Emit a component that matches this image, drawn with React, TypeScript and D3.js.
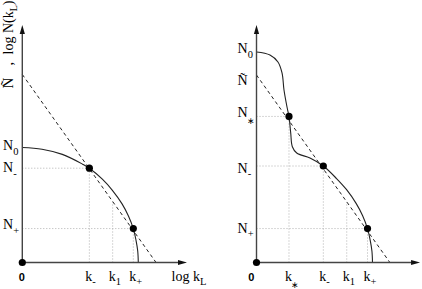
import React from "react";
import * as d3 from "d3";

const W = 422;
const H = 289;

// ---------- data (schematic units: log k on x, log N on y) ----------
// left panel
const leftCurveK = [0, 1.7, 3.45, 5.2, 5.78, 6.9, 7.75, 8.6, 9.15, 9.57, 9.8, 9.95, 10];
const leftCurveN = [10, 9.85, 9.4, 8.55, 8.2, 7.25, 6.3, 5.1, 4.05, 2.95, 1.95, 1.0, 0];
const leftDotK = [5.78, 9.57];
const leftDotN = [8.2, 2.95];
const leftTildeN = 16.35;
const leftDashEndK = 11.53;
const leftK1 = 7.79;
const leftYLabelSubs = ["0", "-", "+"];
const leftYLabelVals = [10, 8.2, 2.95];
const leftXLabelSubs = ["-", "1", "+"];
const leftXLabelVals = [5.78, 7.79, 9.57];

// right panel
const rightCurveK = [0, 1.16, 1.85, 2.2, 2.37, 2.63, 2.8, 2.95, 3.09, 3.47, 4.61, 5.76, 6.9, 7.75, 8.6, 9.15, 9.57, 9.8, 9.95, 10];
const rightCurveN = [18.3, 18.04, 17.43, 16.48, 15.0, 13.52, 12.7, 11.26, 10.07, 9.52, 9.09, 8.39, 7.3, 6.35, 5.12, 4.07, 2.95, 1.95, 1.0, 0];
const rightDotK = [2.8, 5.76, 9.57];
const rightDotN = [12.7, 8.39, 2.95];
const rightTildeN = 16.3;
const rightDashEndK = 11.5;
const rightK1 = 7.78;
const rightYLabelSubs = ["0", "~", "*", "-", "+"];
const rightYLabelVals = [18.3, 16.3, 12.7, 8.39, 2.95];
const rightXLabelSubs = ["*", "-", "1", "+"];
const rightXLabelVals = [2.8, 5.76, 7.78, 9.57];

// rotated y title pieces of the left panel
const yTitleParts = ["Ñ", ",", "log N(k"];

const SERIF = "'Liberation Serif', 'Times New Roman', serif";
const SANS = "'Liberation Sans', Arial, sans-serif";

type PanelProps = {
  ox: number;
  xMax: number;
  curveK: number[];
  curveN: number[];
  dotK: number[];
  dotN: number[];
  tildeN: number;
  dashEndK: number;
  k1: number;
  yLabelSubs: string[];
  yLabelVals: number[];
  yLabelOffsets: number[];
  yLabelX: number;
  xLabelSubs: string[];
  xLabelVals: number[];
  zeroX: number;
  xAxisLabel: boolean;
};

function Sub({ s }: { s: string }) {
  if (s === "*") {
    return (
      <tspan fontSize={9} dx={-1} dy={7}>
        {"∗"}
      </tspan>
    );
  }
  return (
    <tspan fontSize={10.5} dy={4.5}>
      {s}
    </tspan>
  );
}

function Panel(p: PanelProps) {
  const x = d3.scaleLinear().domain([0, p.xMax]).range([p.ox, p.ox + p.xMax * 11.6]);
  const y = d3.scaleLinear().domain([0, 20.65]).range([262.5, 25]);
  const pts: [number, number][] = p.curveK.map((k, i) => [k, p.curveN[i]]);
  const line = d3
    .line<[number, number]>()
    .x((d) => x(d[0]))
    .y((d) => y(d[1]))
    .curve(d3.curveCatmullRom.alpha(0.5));
  const dashN = (k: number) => p.tildeN * (1 - k / p.dashEndK);
  const x0 = x(0);
  const y0 = y(0);
  const xTip = x(p.xMax);
  const yTip = y(20.65);
  const dotted = { stroke: "#b0b0b0", strokeWidth: 1, strokeDasharray: "1,2", fill: "none" };

  return (
    <g>
      {/* dotted guides */}
      {p.dotK.map((k, i) => (
        <g key={"g" + i}>
          <line x1={x0} x2={x(k)} y1={y(p.dotN[i])} y2={y(p.dotN[i])} style={dotted} />
          <line x1={x(k)} x2={x(k)} y1={y0} y2={y(p.dotN[i])} style={dotted} />
        </g>
      ))}
      <line x1={x(p.k1)} x2={x(p.k1)} y1={y0} y2={y(dashN(p.k1))} style={dotted} />

      {/* dashed tangent line */}
      <line
        x1={x(0)}
        y1={y(p.tildeN)}
        x2={x(p.dashEndK)}
        y2={y(0)}
        stroke="#222"
        strokeWidth={1}
        strokeDasharray="3.5,3"
      />

      {/* curve */}
      <path d={line(pts) || ""} fill="none" stroke="#222" strokeWidth={1.1} />

      {/* axes */}
      <line x1={x0} y1={y0} x2={xTip - 6} y2={y0} stroke="#444" strokeWidth={1.4} />
      <line x1={x0} y1={y0} x2={x0} y2={yTip + 6} stroke="#444" strokeWidth={1.4} />
      <path d={`M${xTip},${y0} L${xTip - 9},${y0 - 2.6} L${xTip - 9},${y0 + 2.6} Z`} fill="#111" />
      <path d={`M${x0},${yTip} L${x0 - 2.6},${yTip + 9} L${x0 + 2.6},${yTip + 9} Z`} fill="#111" />

      {/* dots */}
      <circle cx={x0} cy={y0} r={3.6} fill="#000" />
      {p.dotK.map((k, i) => (
        <circle key={"d" + i} cx={x(k)} cy={y(p.dotN[i])} r={3.6} fill="#000" />
      ))}

      {/* y labels */}
      {p.yLabelSubs.map((s, i) => (
        <text
          key={"yl" + i}
          x={p.yLabelX}
          y={y(p.yLabelVals[i]) + p.yLabelOffsets[i]}
          fontFamily={SERIF}
          fontSize={14}
          fill="#000"
        >
          {s === "~" ? "Ñ" : (
            <>
              <tspan>N</tspan>
              <Sub s={s} />
            </>
          )}
        </text>
      ))}

      {/* x labels */}
      <text x={p.zeroX} y={280.5} fontFamily={SANS} fontWeight="bold" fontSize={11} textAnchor="middle" fill="#000">
        0
      </text>
      {p.xLabelSubs.map((s, i) => (
        <text key={"xl" + i} x={x(p.xLabelVals[i]) - 4} y={280.5} fontFamily={SERIF} fontSize={14} fill="#000">
          <tspan>k</tspan>
          <Sub s={s} />
        </text>
      ))}
      {p.xAxisLabel && (
        <text x={171.5} y={280.5} fontFamily={SERIF} fontSize={14} fill="#000">
          <tspan>log k</tspan>
          <tspan fontSize={10.5} dy={4}>
            L
          </tspan>
        </text>
      )}
    </g>
  );
}

export default function App() {
  const titleStarts = [88.5, 65.5, 54.5];
  return (
    <svg
      width={W}
      height={H}
      viewBox={`0 0 ${W} ${H}`}
      style={{ position: "absolute", left: 0, top: 0, background: "#fff" }}
    >
      <rect x={0} y={0} width={W} height={H} fill="#fff" />
      <Panel
        ox={22.3}
        xMax={14.2}
        curveK={leftCurveK}
        curveN={leftCurveN}
        dotK={leftDotK}
        dotN={leftDotN}
        tildeN={leftTildeN}
        dashEndK={leftDashEndK}
        k1={leftK1}
        yLabelSubs={leftYLabelSubs}
        yLabelVals={leftYLabelVals}
        yLabelOffsets={[3, 4.3, 0.5]}
        yLabelX={3}
        xLabelSubs={leftXLabelSubs}
        xLabelVals={leftXLabelVals}
        zeroX={21.7}
        xAxisLabel={true}
      />
      <Panel
        ox={256.5}
        xMax={14.1}
        curveK={rightCurveK}
        curveN={rightCurveN}
        dotK={rightDotK}
        dotN={rightDotN}
        tildeN={rightTildeN}
        dashEndK={rightDashEndK}
        k1={rightK1}
        yLabelSubs={rightYLabelSubs}
        yLabelVals={rightYLabelVals}
        yLabelOffsets={[1, 9.5, 0.3, 6.5, 4]}
        yLabelX={237.5}
        xLabelSubs={rightXLabelSubs}
        xLabelVals={rightXLabelVals}
        zeroX={251.2}
        xAxisLabel={false}
      />
      {/* rotated y-axis title of the left panel */}
      {yTitleParts.map((t, i) => (
        <text
          key={"t" + i}
          transform={`translate(12.5,${titleStarts[i]}) rotate(-90)`}
          fontFamily={SERIF}
          fontSize={i === 2 ? 14 : 15}
          fill="#000"
        >
          <tspan>{t}</tspan>
          {i === 2 && (
            <>
              <tspan fontSize={10} dy={4}>
                L
              </tspan>
              <tspan dy={-4}>)</tspan>
            </>
          )}
        </text>
      ))}
    </svg>
  );
}
